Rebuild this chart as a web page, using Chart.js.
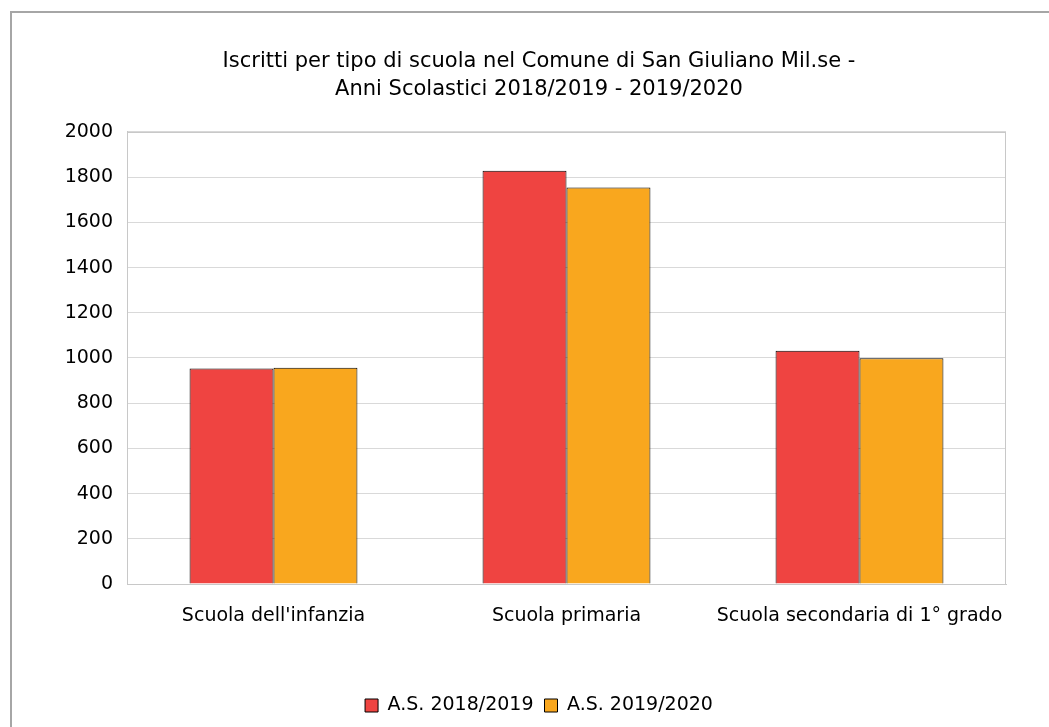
<!DOCTYPE html>
<html>
<head>
<meta charset="utf-8">
<script src="https://cdn.jsdelivr.net/npm/chart.js@4/dist/chart.umd.min.js"></script>
<style>
  body { margin: 0; background: #fff; }
  #frame { position: absolute; left: 10px; top: 11px; width: 1100px; height: 800px;
           border-left: 2px solid #a6a6a6; border-top: 2px solid #a6a6a6; }
  #wrap { position: absolute; left: 0; top: 0; width: 1049px; height: 727px; }
</style>
</head>
<body>
<div id="frame"></div>
<div id="wrap"><canvas id="schoolChart" width="1049" height="727"></canvas></div>
<script>
// categories and values
var schools = ["Scuola dell'infanzia", "Scuola primaria", "Scuola secondaria di 1° grado"];
var year1 = [953, 1829, 1032];
var year2 = [957, 1754, 999];
var seriesNames = ["A.S. 2018/2019", "A.S. 2019/2020"];
var titleLines = ["Iscritti per tipo di scuola nel Comune di San Giuliano Mil.se -",
                  "Anni Scolastici 2018/2019 - 2019/2020"];

//draw a border round the plot area
var plotBorder = {
    id: "plotBorder",
    afterDraw: function(chart){
        var a = chart.chartArea;
        var ctx = chart.ctx;
        ctx.save();
        ctx.strokeStyle = "#c8c8c8";
        ctx.lineWidth = 1;
        ctx.strokeRect(a.left + 0.5, a.top + 0.5, a.right - a.left - 1, a.bottom - a.top);
        ctx.restore();
    }
};

var fontName = "'DejaVu Sans', Verdana, sans-serif";

new Chart("schoolChart", {
    type: "bar",
    data: {
        labels: schools,
        datasets: [{
            label: seriesNames[0],
            data: year1,
            backgroundColor: "#ef4441",
            borderColor: "#000",
            borderWidth: 1
        }, {
            label: seriesNames[1],
            data: year2,
            backgroundColor: "#f9a71e",
            borderColor: "#000",
            borderWidth: 1
        }]
    },
    options: {
        responsive: false,
        animation: false,
        layout: { padding: { left: 60, right: 31, top: 48, bottom: 2 } },
        datasets: { bar: { categoryPercentage: 0.573, barPercentage: 1 } },
        plugins: {
            title: {
                display: true,
                text: titleLines,
                color: "#000",
                font: { family: fontName, size: 21, weight: "normal", lineHeight: 1.333 },
                padding: { top: 0, bottom: 28 }
            },
            legend: {
                position: "bottom",
                labels: {
                    color: "#000",
                    font: { family: fontName, size: 19 },
                    boxWidth: 13,
                    boxHeight: 13,
                    padding: 11
                }
            },
            tooltip: { enabled: false }
        },
        scales: {
            x: {
                grid: { display: false },
                border: { color: "#c8c8c8" },
                ticks: { color: "#000", font: { family: fontName, size: 19 }, padding: 13 },
                afterFit: function(scale){ scale.height = 101; }
            },
            y: {
                min: 0,
                max: 2000,
                ticks: {
                    stepSize: 200,
                    color: "#000",
                    font: { family: fontName, size: 19 },
                    padding: 14,
                    callback: function(value){ return String(value); }
                },
                grid: { color: "#d9d9d9", drawTicks: false },
                border: { color: "#c8c8c8" },
                afterFit: function(scale){ scale.width = 127 - 60; }
            },
            // empty axis on the right, only to leave room
            yRight: {
                position: "right",
                display: true,
                grid: { display: false, drawTicks: false },
                border: { display: false },
                ticks: { display: false },
                afterFit: function(scale){ scale.width = 12; }
            }
        }
    },
    plugins: [plotBorder]
});
</script>
</body>
</html>
